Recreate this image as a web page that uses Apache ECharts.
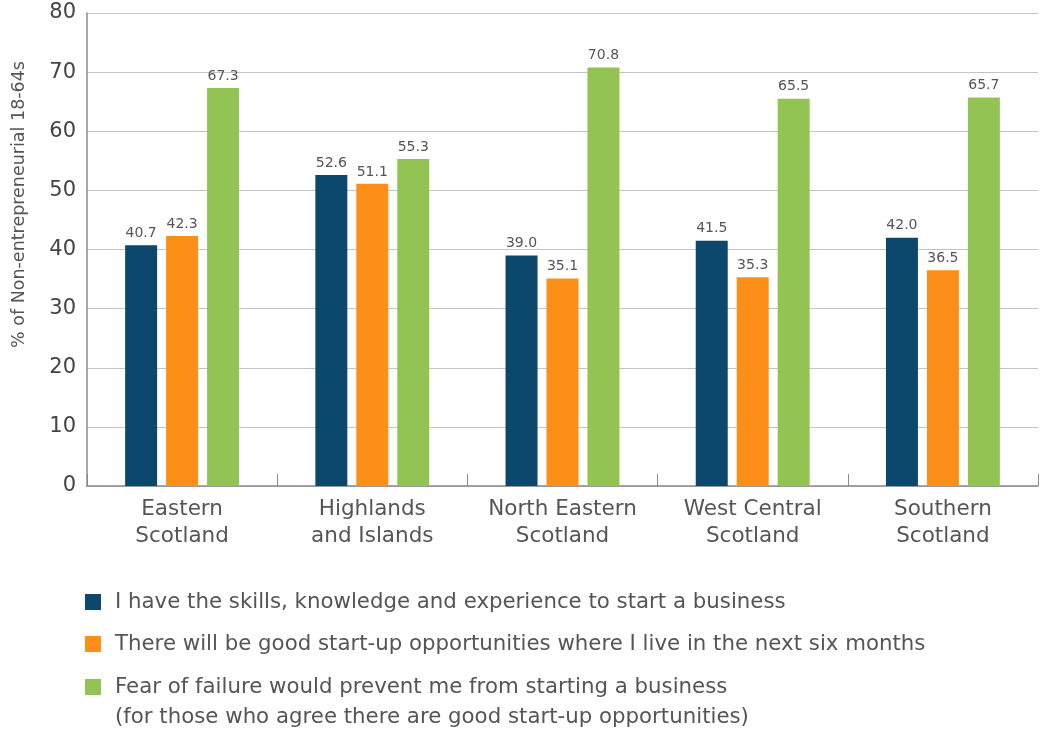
<!DOCTYPE html>
<html>
<head>
<meta charset="utf-8">
<script src="https://cdn.jsdelivr.net/npm/echarts@6/dist/echarts.min.js"></script>
<style>
  html, body { margin: 0; padding: 0; background: #ffffff; }
  #chart { width: 1041px; height: 731px; }
</style>
</head>
<body>
<div id="chart"></div>
<script>
// Regions of Scotland
const regions = [
  'Eastern\nScotland',
  'Highlands\nand Islands',
  'North Eastern\nScotland',
  'West Central\nScotland',
  'Southern\nScotland'
];

// Series names
const nameSkills = 'I have the skills, knowledge and experience to start a business';
const nameOpportunities = 'There will be good start-up opportunities where I live in the next six months';
const nameFear = 'Fear of failure would prevent me from starting a business\n(for those who agree there are good start-up opportunities)';

// Percentages per region
const skillsValues = [40.7, 52.6, 39.0, 41.5, 42.0];
const opportunityValues = [42.3, 51.1, 35.1, 35.3, 36.5];
const fearValues = [67.3, 55.3, 70.8, 65.5, 65.7];

const yAxisTitle = '% of Non-entrepreneurial 18-64s';

const FONT = '"DejaVu Sans", sans-serif';
const colors = ['#0b486b', '#fb8f17', '#93c353'];

function barSeries(name, data, color) {
  return {
    name: name,
    type: 'bar',
    data: data,
    barWidth: 32,
    barGap: '28%',
    itemStyle: { color: color },
    label: {
      show: true,
      position: 'top',
      distance: 5,
      color: '#555555',
      fontSize: 14,
      fontFamily: FONT,
      formatter: p => p.value.toFixed(1)
    }
  };
}

function legendItem(name, top, extra) {
  return Object.assign({
    data: [name],
    orient: 'vertical',
    left: 85,
    top: top,
    padding: 0,
    itemWidth: 16,
    itemHeight: 16,
    icon: 'rect',
    selectedMode: false,
    textStyle: {
      color: '#555555',
      fontSize: 21.3,
      fontFamily: FONT,
      lineHeight: 30,
      padding: [0, 0, 0, 9]
    }
  }, extra || {});
}

const chart = echarts.init(document.getElementById('chart'), null, { renderer: 'canvas' });
chart.setOption({
  animation: false,
  backgroundColor: '#ffffff',
  textStyle: { fontFamily: FONT },
  grid: { left: 87, right: 3, top: 13, bottom: 245, containLabel: false, outerBoundsMode: 'none' },
  legend: [
    legendItem(nameSkills, 587),
    legendItem(nameOpportunities, 629),
    // the multi-line entry keeps its square beside the first line
    legendItem(nameFear, 642, { formatter: n => '\n' + n })
  ],
  xAxis: {
    type: 'category',
    data: regions,
    axisLine: { show: true, lineStyle: { color: '#8a8a8a', width: 1.5 } },
    axisTick: { show: true, inside: true, length: 12, lineStyle: { color: '#8a8a8a' } },
    axisLabel: {
      color: '#555555',
      fontSize: 21.5,
      fontFamily: FONT,
      lineHeight: 27,
      margin: 10,
      interval: 0
    }
  },
  yAxis: {
    type: 'value',
    min: 0,
    max: 80,
    interval: 10,
    name: yAxisTitle,
    nameLocation: 'middle',
    nameRotate: 90,
    nameGap: 59,
    nameTextStyle: {
      color: '#555555',
      fontSize: 17.5,
      fontFamily: FONT,
      padding: [0, 0, 0, 90]
    },
    axisLine: { show: true, lineStyle: { color: '#8a8a8a', width: 1.5 } },
    axisTick: { show: false },
    splitLine: { show: true, lineStyle: { color: '#c4c4c4', width: 1 } },
    axisLabel: {
      color: '#444444',
      fontSize: 21,
      fontFamily: FONT,
      margin: 11
    }
  },
  series: [
    barSeries(nameSkills, skillsValues, colors[0]),
    barSeries(nameOpportunities, opportunityValues, colors[1]),
    barSeries(nameFear, fearValues, colors[2])
  ]
});
</script>
</body>
</html>
